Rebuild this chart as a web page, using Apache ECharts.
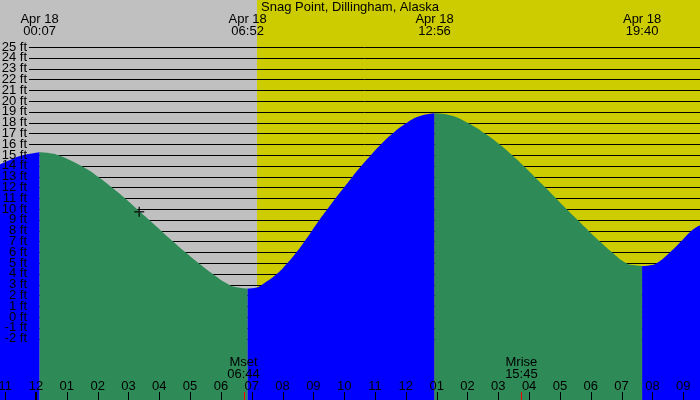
<!DOCTYPE html>
<html><head><meta charset="utf-8">
<script src="https://cdn.jsdelivr.net/npm/echarts@6/dist/echarts.min.js"></script>
<style>html,body{margin:0;padding:0;background:#c0c0c0}#c{width:700px;height:400px}</style>
</head><body><div id="c"></div>
<script>
// ---- data (time in hours since 00:00 Apr 18, height in ft) ----
const titleText = 'Snag Point, Dillingham, Alaska';
const dateLabel = 'Apr 18';
const xMin = -1.168, xMax = 21.545;
const yMin = -7.68, yMax = 29.36;
const sunrise = 7.171;
const extremeTimes = [0.117, 6.867, 12.933, 19.667];
const extremeLabels = ['00:07', '06:52', '12:56', '19:40'];
const levels = [25,24,23,22,21,20,19,18,17,16,15,14,13,12,11,10,9,8,7,6,5,4,3,2,1,0,-1,-2];
const hourTicks = [-1,0,1,2,3,4,5,6,7,8,9,10,11,12,13,14,15,16,17,18,19,20,21];
const hourLabels = ['11','12','01','02','03','04','05','06','07','08','09','10','11','12','01','02','03','04','05','06','07','08','09'];
const moonTimes = [6.733, 15.75];
const moonNames = ['Mset', 'Mrise'];
const moonLabels = ['06:44', '15:45'];
const markerT = [3.35], markerH = [9.76];

const segA_t = [-1.168, -0.84, -0.52, 0.117];
const segA_h = [14.15, 14.55, 14.92, 15.26];
const segB_t = [0.117, 0.45, 0.714, 1.46, 2.012, 2.466, 2.888, 3.277, 3.667, 4.056, 4.445, 4.851, 5.273, 5.727, 6.262, 6.62, 6.867];
const segB_h = [15.26, 15.18, 15, 14, 13, 12, 11, 10, 9, 8, 7, 6, 5, 4, 3, 2.72, 2.65];
const segC_t = [6.867, 7.13, 7.333, 7.82, 8.16, 8.452, 8.712, 8.955, 9.199, 9.458, 9.718, 9.993, 10.269, 10.561, 10.87, 11.194, 11.567, 12.038, 12.46, 12.933];
const segC_h = [2.65, 2.72, 3, 4, 5, 6, 7, 8, 9, 10, 11, 12, 13, 14, 15, 16, 17, 18, 18.61, 18.87];
const segD_t = [12.933, 13.43, 14.0, 14.568, 15.039, 15.444, 15.818, 16.174, 16.531, 16.872, 17.213, 17.569, 17.926, 18.3, 18.689, 19.143, 19.44, 19.667];
const segD_h = [18.87, 18.69, 18, 17, 16, 15, 14, 13, 12, 11, 10, 9, 8, 7, 6, 5, 4.79, 4.73];
const segE_t = [19.667, 19.89, 20.149, 20.571, 20.928, 21.269, 21.545];
const segE_h = [4.73, 4.78, 5, 6, 7, 8, 8.5];

// ---- styles ----
const FONT = '13px "Liberation Sans", Arial, sans-serif';
const BLUE = '#0000ff', GREEN = '#2e8b57', GREY = '#c0c0c0', YELLOW = '#cccc00';

const zip = (t, h) => t.map((v, i) => [v, h[i]]);
function areaSeries(t, h, color) {
  return {
    type: 'line', data: zip(t, h), symbol: 'none', smooth: 0.5,
    lineStyle: { width: 0, color: color }, areaStyle: { color: color, opacity: 1, origin: 'start' },
    z: 3, silent: true
  };
}

const chart = echarts.init(document.getElementById('c'), null, { renderer: 'canvas' });
chart.setOption({
  animation: false,
  backgroundColor: GREY,
  title: { text: titleText, left: 'center', top: 1, padding: 0,
    textStyle: { fontSize: 13, fontWeight: 'normal', color: '#000', fontFamily: '"Liberation Sans", Arial, sans-serif' } },
  grid: { left: 0, right: 0, top: 0, bottom: 0 },
  xAxis: { type: 'value', min: xMin, max: xMax, show: false },
  yAxis: { type: 'value', min: yMin, max: yMax, show: false },
  series: [
    { // day / night background
      type: 'custom', z: 1, silent: true,
      data: [[xMin, sunrise, 0], [sunrise, xMax, 1]],
      renderItem: function (params, api) {
        const a = api.coord([api.value(0), yMax]);
        const b = api.coord([api.value(1), yMin]);
        return { type: 'rect', shape: { x: a[0], y: a[1], width: b[0] - a[0], height: b[1] - a[1] },
          style: { fill: api.value(2) ? YELLOW : GREY } };
      }
    },
    { // level lines
      type: 'custom', z: 2, silent: true,
      data: levels.map(l => [xMin, l]),
      renderItem: function (params, api) {
        const p = api.coord([api.value(0), api.value(1)]);
        const cs = params.coordSys;
        const y = Math.round(p[1]) + 0.5;
        return { type: 'line', shape: { x1: cs.x + 29, y1: y, x2: cs.x + cs.width, y2: y },
          style: { stroke: '#000', lineWidth: 1 } };
      }
    },
    areaSeries(segA_t, segA_h, BLUE),
    areaSeries(segB_t, segB_h, GREEN),
    areaSeries(segC_t, segC_h, BLUE),
    areaSeries(segD_t, segD_h, GREEN),
    areaSeries(segE_t, segE_h, BLUE),
    { // level labels
      type: 'custom', z: 5, silent: true,
      data: levels.map(l => [xMin, l]),
      renderItem: function (params, api) {
        const p = api.coord([api.value(0), api.value(1)]);
        return { type: 'text', style: { text: api.value(1) + ' ft', x: params.coordSys.x + 27, y: p[1],
          align: 'right', verticalAlign: 'middle', font: FONT, fill: '#000' } };
      }
    },
    { // high / low labels at top
      type: 'custom', z: 5, silent: true,
      data: extremeTimes.map((t, i) => [t, i]),
      renderItem: function (params, api) {
        const p = api.coord([api.value(0), yMax]);
        const lab = extremeLabels[api.value(1)];
        return { type: 'group', children: [
          { type: 'text', style: { text: dateLabel, x: p[0], y: 19, align: 'center', verticalAlign: 'middle', font: FONT, fill: '#000' } },
          { type: 'text', style: { text: lab, x: p[0], y: 31, align: 'center', verticalAlign: 'middle', font: FONT, fill: '#000' } }
        ] };
      }
    },
    { // hour ticks and labels
      type: 'custom', z: 5, silent: true,
      data: hourTicks.map((t, i) => [t, i]),
      renderItem: function (params, api) {
        const p = api.coord([api.value(0), yMin]);
        const i = api.value(1);
        const midnight = hourTicks[i] === 0;
        const x = midnight ? Math.round(p[0]) : Math.round(p[0]) + 0.5;
        return { type: 'group', children: [
          { type: 'line', shape: { x1: x, y1: 392, x2: x, y2: 400 }, style: { stroke: '#000', lineWidth: midnight ? 2 : 1 } },
          { type: 'text', style: { text: hourLabels[i], x: p[0], y: 386, align: 'center', verticalAlign: 'middle', font: FONT, fill: '#000' } }
        ] };
      }
    },
    { // moon set / rise
      type: 'custom', z: 5, silent: true,
      data: moonTimes.map((t, i) => [t, i]),
      renderItem: function (params, api) {
        const p = api.coord([api.value(0), yMin]);
        const i = api.value(1);
        const x = Math.round(p[0]) + 0.5;
        return { type: 'group', children: [
          { type: 'line', shape: { x1: x, y1: 392, x2: x, y2: 400 }, style: { stroke: '#ff0000', lineWidth: 1 } },
          { type: 'text', style: { text: moonNames[i], x: p[0], y: 362, align: 'center', verticalAlign: 'middle', font: FONT, fill: '#000' } },
          { type: 'text', style: { text: moonLabels[i], x: p[0], y: 374, align: 'center', verticalAlign: 'middle', font: FONT, fill: '#000' } }
        ] };
      }
    },
    { // current-time marker
      type: 'scatter', z: 6, silent: true,
      data: zip(markerT, markerH),
      symbol: 'path://M0,4.25h10v1.5h-10z M4.25,0h1.5v10h-1.5z',
      symbolSize: 10, itemStyle: { color: '#000' }
    }
  ]
});
</script>
</body></html>
